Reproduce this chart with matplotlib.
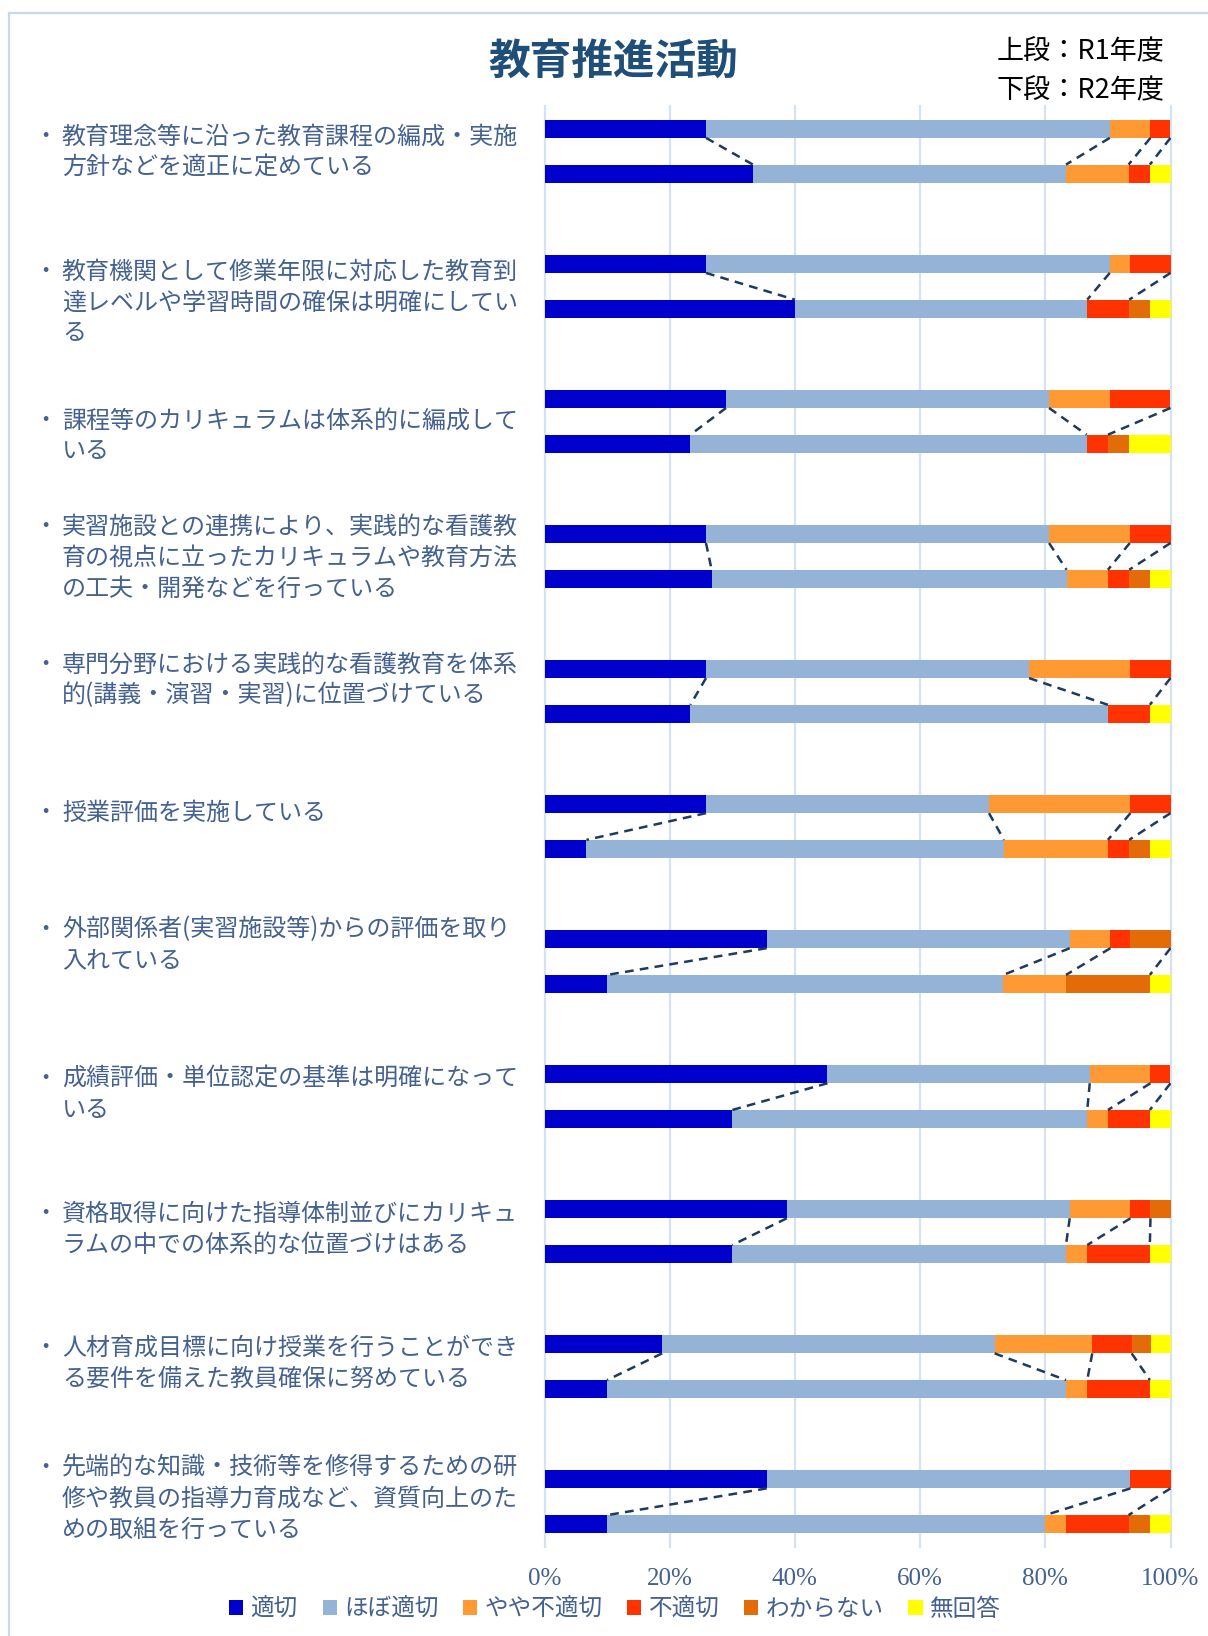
import numpy as np
import matplotlib.pyplot as plt
from matplotlib.patches import Patch
from matplotlib.lines import Line2D

plt.rcParams['font.family'] = ['Noto Sans CJK JP', 'DejaVu Sans']

# --- data (percent of respondents) ---
series = ['適切', 'ほぼ適切', 'やや不適切', '不適切', 'わからない', '無回答']
colors = ['#0000CC', '#95B3D7', '#FF9933', '#FF3300', '#E36C09', '#FFFF00']

labels = [
    ['教育理念等に沿った教育課程の編成・実施', '方針などを適正に定めている'],
    ['教育機関として修業年限に対応した教育到', '達レベルや学習時間の確保は明確にしてい', 'る'],
    ['課程等のカリキュラムは体系的に編成して', 'いる'],
    ['実習施設との連携により、実践的な看護教', '育の視点に立ったカリキュラムや教育方法', 'の工夫・開発などを行っている'],
    ['専門分野における実践的な看護教育を体系', '的(講義・演習・実習)に位置づけている'],
    ['授業評価を実施している'],
    ['外部関係者(実習施設等)からの評価を取り', '入れている'],
    ['成績評価・単位認定の基準は明確になって', 'いる'],
    ['資格取得に向けた指導体制並びにカリキュ', 'ラムの中での体系的な位置づけはある'],
    ['人材育成目標に向け授業を行うことができ', 'る要件を備えた教員確保に努めている'],
    ['先端的な知識・技術等を修得するための研', '修や教員の指導力育成など、資質向上のた', 'めの取組を行っている'],
]

# upper bar: R1年度
r1 = np.array([
    [25.8, 64.5, 6.5, 3.2, 0.0, 0.0],
    [25.8, 64.5, 3.2, 6.5, 0.0, 0.0],
    [29.0, 51.6, 9.7, 9.7, 0.0, 0.0],
    [25.8, 54.8, 12.9, 6.5, 0.0, 0.0],
    [25.8, 51.6, 16.1, 6.5, 0.0, 0.0],
    [25.8, 45.2, 22.6, 6.4, 0.0, 0.0],
    [35.5, 48.4, 6.5, 3.2, 6.4, 0.0],
    [45.2, 41.9, 9.7, 3.2, 0.0, 0.0],
    [38.7, 45.2, 9.7, 3.2, 3.2, 0.0],
    [18.8, 53.1, 15.6, 6.3, 3.1, 3.1],
    [35.5, 58.1, 0.0, 6.4, 0.0, 0.0],
])

# lower bar: R2年度
r2 = np.array([
    [33.3, 50.0, 10.0, 3.4, 0.0, 3.3],
    [40.0, 46.7, 0.0, 6.7, 3.3, 3.3],
    [23.3, 63.3, 0.0, 3.4, 3.3, 6.7],
    [26.7, 56.7, 6.6, 3.4, 3.3, 3.3],
    [23.3, 66.7, 0.0, 6.7, 0.0, 3.3],
    [6.7, 66.7, 16.6, 3.4, 3.3, 3.3],
    [10.0, 63.3, 10.0, 0.0, 13.4, 3.3],
    [30.0, 56.7, 3.3, 6.7, 0.0, 3.3],
    [30.0, 53.3, 3.4, 10.0, 0.0, 3.3],
    [10.0, 73.3, 3.4, 10.0, 0.0, 3.3],
    [10.0, 70.0, 3.3, 10.0, 3.4, 3.3],
])

# label first-line nudge (px above group centre)
label_shift = [15, 15, 1, 30, 27, 14, 32, 18, 18, 19, 34]

W, H = 1208, 1636
txt_col = '#44618F'

fig = plt.figure(figsize=(W / 100, H / 100), dpi=100)
ax = fig.add_axes([544.5 / W, 1 - 1547 / H, 626 / W, 1441 / H])

n = len(labels)
ypos = np.arange(n)
off = 0.1655
bh = 0.133

left1 = np.zeros(n)
left2 = np.zeros(n)
for k in range(len(series)):
    v1 = r1[:, k]
    v2 = r2[:, k]
    ax.barh(ypos - off, v1, left=left1, height=bh, color=colors[k], zorder=3)
    ax.barh(ypos + off, v2, left=left2, height=bh, color=colors[k], zorder=3)
    # series lines (only where the segment exists in both years)
    if k < len(series) - 1:
        for i in range(n):
            if v1[i] > 0 and v2[i] > 0:
                ax.plot([left1[i] + v1[i], left2[i] + v2[i]],
                        [i - off + bh / 2, i + off - bh / 2],
                        color='#1F3A5F', lw=1.8, ls=(0, (3.5, 2.5)), zorder=4)
    left1 += v1
    left2 += v2

ax.set_xlim(0, 100)
ax.set_ylim(n - 1 + 0.335, -0.335)
ax.set_yticks([])
ax.set_xticks(range(0, 101, 20))
ax.set_xticklabels([f'{v}%' for v in range(0, 101, 20)],
                   family='Liberation Serif', fontsize=18, color=txt_col)
ax.tick_params(axis='x', length=0, pad=15)
ax.xaxis.grid(True, color='#D5E2F2', lw=1.6)
for gl in ax.get_xgridlines():
    gl.set_clip_on(False)
ax.set_axisbelow(True)
for s in ax.spines.values():
    s.set_visible(False)

# category labels, bullet + wrapped lines
line_h = 31
for i, lines in enumerate(labels):
    yc = ax.transData.transform((0, i))[1]
    y0 = yc + label_shift[i]
    fig.text(45 / W, y0 / H, '・', ha='center', va='center', fontsize=16, color=txt_col)
    for j, ln in enumerate(lines):
        fig.text(62 / W, (y0 - j * line_h) / H, ln, ha='left', va='center',
                 fontsize=17.3, color=txt_col)

# title and year notes
fig.text(613 / W, 1 - 62 / H, '教育推進活動', ha='center', va='center',
         fontsize=30, fontweight='bold', color='#1F4E79')
fig.text(1164 / W, 1 - 52 / H, '上段：R1年度', ha='right', va='center', fontsize=19.5, color='black')
fig.text(1164 / W, 1 - 91 / H, '下段：R2年度', ha='right', va='center', fontsize=19.5, color='black')

# legend
handles = [Patch(facecolor=c, edgecolor='none') for c in colors]
fig.legend(handles, series, loc='center', bbox_to_anchor=(0.509, 1 - 1609 / H),
           ncol=6, frameon=False, handlelength=0.6, handleheight=0.6,
           handletextpad=0.3, columnspacing=1.05, fontsize=17, labelcolor=txt_col)

# outer frame (left and top edges visible)
fig.add_artist(Line2D([9 / W, 9 / W], [0, 1 - 13 / H], color='#C6D9F0', lw=1.6))
fig.add_artist(Line2D([9 / W, 1], [1 - 13 / H, 1 - 13 / H], color='#C6D9F0', lw=1.6))

fig.savefig('out.png', dpi=100)
